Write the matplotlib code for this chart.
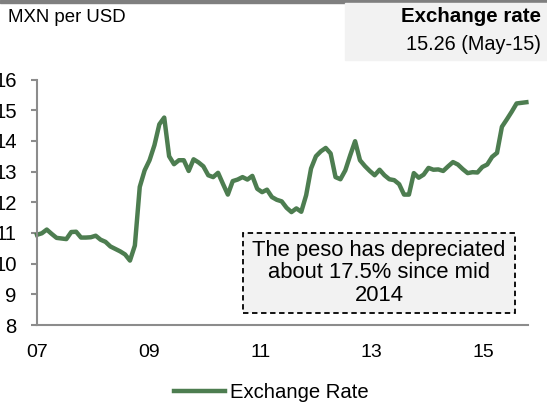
import matplotlib
matplotlib.use("Agg")
import matplotlib.pyplot as plt
from matplotlib.patches import Rectangle
import numpy as np

plt.rcParams['font.family'] = ['Liberation Sans', 'DejaVu Sans']

# Monthly MXN per USD, Jan 2007 .. May 2015
rate = [
    10.94, 10.99, 11.11, 10.97, 10.84, 10.82, 10.80, 11.03, 11.04, 10.85,
    10.85, 10.86, 10.91, 10.78, 10.71, 10.56, 10.48, 10.40, 10.30, 10.10,
    10.59, 12.50, 13.04, 13.37, 13.86, 14.54, 14.76, 13.50, 13.24, 13.37,
    13.37, 13.02, 13.40, 13.30, 13.17, 12.88, 12.82, 12.96, 12.60, 12.25,
    12.69, 12.74, 12.82, 12.74, 12.86, 12.44, 12.33, 12.41, 12.17, 12.08,
    12.03, 11.82, 11.68, 11.80, 11.69, 12.23, 13.10, 13.50, 13.66, 13.77,
    13.59, 12.82, 12.75, 13.04, 13.53, 13.99, 13.37, 13.18, 13.02, 12.88,
    13.06, 12.88, 12.75, 12.72, 12.59, 12.25, 12.25, 12.95, 12.80, 12.90,
    13.12, 13.06, 13.07, 13.02, 13.17, 13.31, 13.23, 13.08, 12.95, 12.98,
    12.97, 13.15, 13.23, 13.48, 13.61, 14.46, 14.70, 14.95, 15.22, 15.24,
    15.26,
]
year_labels = ["07", "09", "11", "13", "15"]
y_ticks = [8, 9, 10, 11, 12, 13, 14, 15, 16]

months = np.arange(len(rate))
line_color = "#4d7d50"
axis_color = "#8c8c8c"
W, H = 547, 403

fig = plt.figure(figsize=(W / 100, H / 100), dpi=100)
ax = fig.add_axes([0.0676, 0.1935, 0.8974, 0.6092])

ax.plot(months, rate, color=line_color, lw=3.2, solid_joinstyle="round",
        label="Exchange Rate", clip_on=False)

ax.set_ylim(8, 16)
ax.set_xlim(0, 100.3)
ax.set_yticks(y_ticks)
ax.set_yticklabels([str(v) for v in y_ticks])
# year labels sit ~22.8 months apart on the original axis
ax.set_xticks(np.arange(len(year_labels)) * 22.8)
ax.set_xticklabels(year_labels)

for side in ["top", "right"]:
    ax.spines[side].set_visible(False)
for side in ["left", "bottom"]:
    ax.spines[side].set_color(axis_color)
    ax.spines[side].set_linewidth(1.5)
ax.tick_params(axis="y", length=4, width=1.5, color=axis_color, pad=10.5,
               labelsize=14.6)
ax.tick_params(axis="x", length=0, pad=14, labelsize=14)

# annotation box (dashed border, light grey fill)
fig.patches.append(Rectangle((243 / W, 1 - 313 / H), 272 / W, 80 / H,
                             transform=fig.transFigure, fc="#f2f2f2", ec="black",
                             lw=1.3, ls=(0, (3, 2)), zorder=3))
fig.text(379 / W, 1 - 273 / H, "The peso has depreciated\nabout 17.5% since mid\n2014",
         ha="center", va="center", fontsize=15.8, linespacing=1.12, zorder=4)

# header
fig.patches.append(Rectangle((0, 1 - 3 / H), 1, 3 / H, transform=fig.transFigure,
                             color="#7f7f7f", zorder=0))
fig.patches.append(Rectangle((345 / W, 1 - 60 / H), 202 / W, 57 / H,
                             transform=fig.transFigure, color="#f2f2f2", zorder=0))
fig.text(8 / W, 1 - 17 / H, "MXN per USD", fontsize=13.4, va="center", ha="left")
fig.text(541 / W, 1 - 17 / H, "Exchange rate", fontsize=14.8, weight="bold",
         va="center", ha="right")
fig.text(541 / W, 1 - 45 / H, "15.26 (May-15)", fontsize=14.3,
         va="center", ha="right")

fig.legend(loc="center left", bbox_to_anchor=(174 / W, 1 - 393 / H), frameon=False,
           fontsize=14.6, handlelength=2.5, handletextpad=0.25, borderpad=0,
           borderaxespad=0)

fig.savefig("out.png", dpi=100)
